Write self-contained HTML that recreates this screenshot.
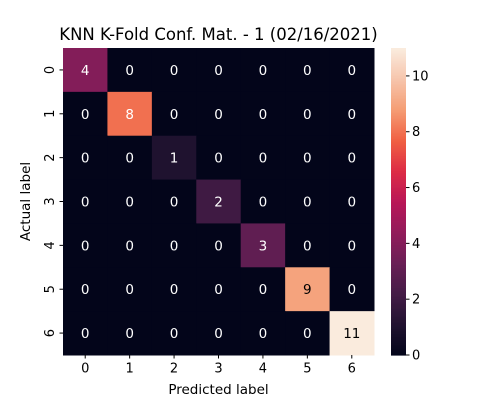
<!DOCTYPE html>
<html><head><meta charset="utf-8"><style>
body{margin:0;background:#fff;font-family:"Liberation Sans","DejaVu Sans",sans-serif;}
svg text{font-family:"DejaVu Sans","Liberation Sans",sans-serif;}
</style></head><body>
<svg id="c" width="500" height="400"></svg>
<script>
const labels=["0","1","2","3","4","5","6"];
const matrix=[
[4,0,0,0,0,0,0],
[0,8,0,0,0,0,0],
[0,0,1,0,0,0,0],
[0,0,0,2,0,0,0],
[0,0,0,0,3,0,0],
[0,0,0,0,0,9,0],
[0,0,0,0,0,0,11]];
const cbTicks=[0,2,4,6,8,10];
const vmin=0,vmax=11;
const L=63,R=374,T=48,B=355;
const stops=[[0,"#03051a"],[0.1,"#221331"],[0.2,"#451c47"],[0.3,"#6a1f56"],[0.4,"#921c5b"],[0.5,"#b91657"],[0.6,"#dd2c45"],[0.7,"#f06043"],[0.8,"#f59c73"],[0.9,"#f6c4ab"],[1,"#faebdd"]];
function hex(h){return [1,3,5].map(i=>parseInt(h.substr(i,2),16));}
function cmap(t){t=Math.max(0,Math.min(1,t));for(let i=1;i<stops.length;i++){if(t<=stops[i][0]){const a=stops[i-1],b=stops[i];const f=(t-a[0])/(b[0]-a[0]);const ca=hex(a[1]),cb=hex(b[1]);const c=ca.map((v,k)=>Math.round(v+(cb[k]-v)*f));return {s:`rgb(${c})`,c};}}return {s:stops[10][1],c:hex(stops[10][1])};}
const n=labels.length,cw=(R-L)/n,ch=(B-T)/n;
const xs=i=>L+i*cw, ys=j=>T+j*ch;
const svg=document.getElementById('c');const NS="http://www.w3.org/2000/svg";
function el(tag,attrs,parent,txt){const e=document.createElementNS(NS,tag);for(const k in attrs)e.setAttribute(k,attrs[k]);if(txt!==undefined)e.textContent=txt;(parent||svg).appendChild(e);return e;}
matrix.forEach((row,j)=>row.forEach((v,i)=>{
 const col=cmap((v-vmin)/(vmax-vmin));
 const r=el('rect',{x:xs(i),y:ys(j),width:cw+0.5,height:ch+0.5,fill:col.s});
 
 
 const lum=(0.299*col.c[0]+0.587*col.c[1]+0.114*col.c[2])/255;
 const t=el('text',{x:xs(i)+cw/2,y:ys(j)+ch/2+5,'text-anchor':'middle','font-size':13.5,fill:lum>0.6?'#000':'#fff'},svg,String(v));
 
 
}));
labels.forEach((lab,i)=>{
 el('line',{x1:xs(i)+cw/2,x2:xs(i)+cw/2,y1:B,y2:B+3.5,stroke:'#000'});
 const t=el('text',{x:xs(i)+cw/2,y:B+17.5,'text-anchor':'middle','font-size':13},svg,lab);
 
 
 const yy=ys(i)+ch/2;
 el('line',{x1:L-3.5,x2:L,y1:yy,y2:yy,stroke:'#000'});
 const u=el('text',{x:0,y:0,'text-anchor':'middle','font-size':13,transform:`translate(${L-9},${yy}) rotate(-90)`},svg,lab);
 
 
});
const xt=el('text',{x:(L+R)/2,y:394,'text-anchor':'middle','font-size':13.5},svg,'Predicted label');

const yt=el('text',{x:0,y:0,'text-anchor':'middle','font-size':13.5,transform:`translate(30,${(T+B)/2}) rotate(-90)`},svg,'Actual label');

const tt=el('text',{x:(L+R)/2,y:40,'text-anchor':'middle','font-size':16.5},svg,'KNN K-Fold Conf. Mat. - 1 (02/16/2021)');

const cbL=391,cbW=15;
const g=el('g',{});
for(let k=0;k<200;k++){const y=B-(k+1)*(B-T)/200;el('rect',{x:cbL,y:y,width:cbW,height:(B-T)/200+0.6,fill:cmap(k/199).s},g);}
const cy=v=>B-(v-vmin)/(vmax-vmin)*(B-T);
cbTicks.forEach(v=>{el('line',{x1:cbL+cbW,x2:cbL+cbW+3.5,y1:cy(v),y2:cy(v),stroke:'#000'});
 const t=el('text',{x:cbL+cbW+6,y:cy(v)+4.5,'font-size':13},svg,String(v));
 });
</script>
</body></html>
